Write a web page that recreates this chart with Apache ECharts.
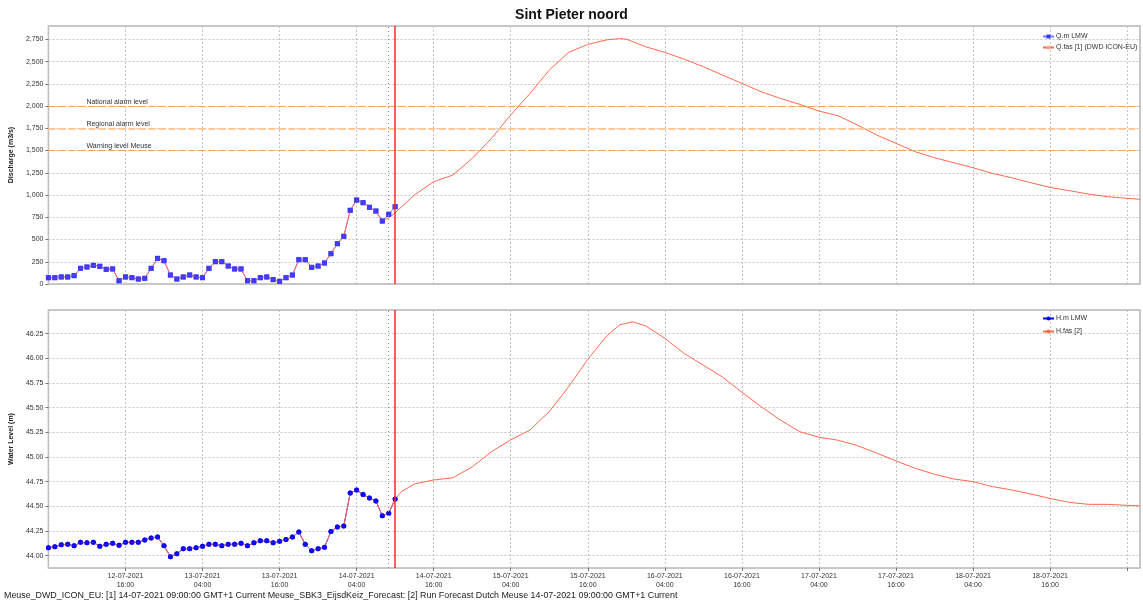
<!DOCTYPE html>
<html><head><meta charset="utf-8">
<script src="https://cdn.jsdelivr.net/npm/echarts@6/dist/echarts.min.js"></script>
<style>html,body{margin:0;padding:0;background:#fff}#c{width:1143px;height:605px}</style>
</head><body><div id="c"></div>
<script>
// x values are hours after 12-07-2021 04:00 (hourly observations)
const titleText = 'Sint Pieter noord';
const footerText = 'Meuse_DWD_ICON_EU: [1] 14-07-2021 09:00:00 GMT+1 Current Meuse_SBK3_EijsdKeiz_Forecast: [2] Run Forecast Dutch Meuse 14-07-2021 09:00:00 GMT+1 Current';
const xTickHours = [12, 24, 36, 48, 60, 72, 84, 96, 108, 120, 132, 144, 156];
const xTickLabels = ['12-07-2021\n16:00', '13-07-2021\n04:00', '13-07-2021\n16:00', '14-07-2021\n04:00', '14-07-2021\n16:00',
  '15-07-2021\n04:00', '15-07-2021\n16:00', '16-07-2021\n04:00', '16-07-2021\n16:00', '17-07-2021\n04:00',
  '17-07-2021\n16:00', '18-07-2021\n04:00', '18-07-2021\n16:00'];
const t0Hour = 53;      // 14-07-2021 09:00 (dotted)
const nowHour = 54;     // current time (red line)

// Discharge observations Q.m LMW (hourly from h=0)
const obsQ = [71,71,79,79,94,176,191,210,199,165,169,37,79,71,56,64,176,288,262,101,
  56,79,101,79,71,176,251,251,202,169,169,37,37,71,79,49,30,71,101,273,
  273,187,202,236,341,453,536,828,944,914,862,820,708,783,869];
const qFasHistEnd = 52; // Q.fas follows the observations up to this hour
const fcQHours = [53,54,57,60,63,66,69,72,75,78,81,84,87,89,90,93,96,99,102,105,108,111,114,117,120,123,126,129,132,135,138,141,144,147,150,153,156,159,162,165,168,170];
const fcQ = [745,801,1000,1150,1225,1412,1636,1899,2142,2404,2603,2693,2745,2758,2752,2667,2603,2528,2442,2348,2255,2161,2086,2019,1944,1891,1787,1674,1581,1487,1419,1363,1307,1243,1195,1138,1086,1049,1011,981,963,952];

// Water level observations H.m LMW
const obsH = [44.08,44.09,44.11,44.115,44.10,44.135,44.13,44.135,44.095,44.115,
  44.125,44.105,44.135,44.135,44.135,44.16,44.18,44.19,44.10,43.99,
  44.02,44.07,44.07,44.08,44.095,44.115,44.115,44.10,44.115,44.115,
  44.125,44.10,44.13,44.15,44.15,44.13,44.145,44.165,44.19,44.24,
  44.115,44.05,44.07,44.085,44.245,44.29,44.30,44.635,44.665,44.62,
  44.585,44.555,44.405,44.43,44.575];
const hFasHistEnd = 54;
const fcHHours = [55,57,60,63,66,69,72,75,78,81,84,87,89,91,93,96,99,102,105,108,111,114,117,120,123,126,129,132,135,138,141,144,147,150,153,156,159,162,165,168,170];
const fcH = [44.65,44.727,44.767,44.79,44.90,45.054,45.173,45.274,45.46,45.71,45.99,46.23,46.34,46.37,46.33,46.203,46.05,45.93,45.81,45.656,45.51,45.375,45.257,45.20,45.17,45.115,45.04,44.96,44.886,44.825,44.777,44.75,44.70,44.666,44.625,44.58,44.54,44.52,44.52,44.51,44.505];

const thresholdValues = [2000, 1750, 1500];
const thresholdNames = ['National alarm level', 'Regional alarm level', 'Warning level Meuse'];

const seriesNames = ['Q.m LMW', 'Q.fas [1] (DWD ICON-EU)', 'H.m LMW', 'H.fas [2]'];

// ---------- build ----------
const FONT = 'Liberation Sans, Arial, sans-serif';
const obsQData = obsQ.map((v, i) => [i, v]);
const obsHData = obsH.map((v, i) => [i, v]);
const fasQData = obsQ.slice(0, qFasHistEnd + 1).map((v, i) => [i, v]).concat(fcQHours.map((h, i) => [h, fcQ[i]]));
const fasHData = obsH.slice(0, hFasHistEnd + 1).map((v, i) => [i, v]).concat(fcHHours.map((h, i) => [h, fcH[i]]));

const BLUE_Q = '#3838ff', BLUE_H = '#0000ff', RED = '#ff6a4f';
const thrStyles = [
  {color: '#f5a04e', width: 1.2, type: [7, 3]},
  {color: '#ffc896', width: 2, type: [7, 3]},
  {color: '#f5a04e', width: 1.2, type: [7, 3]}
];

function xLabel(v) {
  const i = xTickHours.indexOf(Math.round(v));
  return i >= 0 ? xTickLabels[i] : '';
}

function vLines() {
  return [
    {xAxis: t0Hour, lineStyle: {color: '#8a8a8a', width: 1, type: [1, 3]}},
    {xAxis: nowHour, lineStyle: {color: '#ff2a2a', width: 1.5, type: 'solid'}}
  ];
}

const xCommon = (gi, showLabels) => ({
  type: 'value', gridIndex: gi, min: 0, max: 170, interval: 12,
  axisLine: {show: false},
  axisTick: {show: showLabels, length: 3, lineStyle: {color: '#777'}},
  axisLabel: {show: showLabels, formatter: xLabel, fontSize: 7, fontFamily: FONT, color: '#333', margin: 4, lineHeight: 9,
    showMinLabel: false, showMaxLabel: false},
  splitLine: {show: true, lineStyle: {color: '#c4c4c4', type: [2, 2], width: 1}}
});

const option = {
  animation: false,
  backgroundColor: '#fff',
  title: [
    {text: titleText, left: 'center', top: 3, textStyle: {fontSize: 14, fontWeight: 'bold', fontFamily: FONT, color: '#111'}},
    {text: footerText, left: 4, top: 591, padding: 0, textStyle: {fontSize: 8.9, fontWeight: 'normal', fontFamily: FONT, color: '#222'}}
  ],
  legend: [
    {data: [seriesNames[0], seriesNames[1]], orient: 'vertical', left: 1037, top: 28, itemWidth: 11, itemHeight: 5, itemGap: 4,
      textStyle: {fontSize: 7, fontFamily: FONT, color: '#333', padding: [0, 0, 0, -3]}, selectedMode: false},
    {data: [seriesNames[2], seriesNames[3]], orient: 'vertical', left: 1037, top: 310, itemWidth: 11, itemHeight: 5, itemGap: 6,
      textStyle: {fontSize: 7, fontFamily: FONT, color: '#333', padding: [0, 0, 0, -3]}, selectedMode: false}
  ],
  grid: [
    {left: 48, right: 3, top: 26, height: 258, show: true, borderColor: '#b8b8b8', borderWidth: 1.5, backgroundColor: 'transparent'},
    {left: 48, right: 3, top: 310, height: 258, show: true, borderColor: '#b8b8b8', borderWidth: 1.5, backgroundColor: 'transparent'}
  ],
  xAxis: [xCommon(0, false), xCommon(1, true)],
  yAxis: [
    {type: 'value', gridIndex: 0, min: 0, max: 2900, interval: 250,
      name: 'Discharge (m3/s)', nameLocation: 'middle', nameGap: 27,
      nameTextStyle: {fontSize: 7, fontWeight: 'bold', fontFamily: FONT, color: '#222'},
      axisLine: {show: false}, axisTick: {show: true, length: 3, lineStyle: {color: '#777'}},
      axisLabel: {fontSize: 7, fontFamily: FONT, color: '#333', margin: 5, showMaxLabel: false,
        formatter: v => v.toLocaleString('en-US')},
      splitLine: {lineStyle: {color: '#c4c4c4', type: [2, 2], width: 1}}},
    {type: 'value', gridIndex: 1, min: 43.875, max: 46.49, minInterval: 0.25, maxInterval: 0.25, splitNumber: 10,
      name: 'Water Level (m)', nameLocation: 'middle', nameGap: 27,
      nameTextStyle: {fontSize: 7, fontWeight: 'bold', fontFamily: FONT, color: '#222'},
      axisLine: {show: false}, axisTick: {show: true, length: 3, lineStyle: {color: '#777'}},
      axisLabel: {fontSize: 7, fontFamily: FONT, color: '#333', margin: 5, showMaxLabel: false, showMinLabel: false,
        formatter: v => v.toFixed(2)},
      splitLine: {lineStyle: {color: '#c4c4c4', type: [2, 2], width: 1}}}
  ],
  series: [
    {name: seriesNames[0], type: 'line', xAxisIndex: 0, yAxisIndex: 0, data: obsQData, z: 2,
      symbol: 'rect', symbolSize: 5, itemStyle: {color: BLUE_Q}, lineStyle: {color: '#7a7aff', width: 1},
      markLine: {silent: true, symbol: 'none', animation: false,
        data: thresholdValues.map((v, i) => ({yAxis: v, lineStyle: thrStyles[i],
          label: {show: true, formatter: thresholdNames[i], position: 'insideStartTop', distance: [38, 1],
            fontSize: 7, fontFamily: FONT, color: '#333'}})).concat(vLines().map(d => Object.assign(d, {label: {show: false}})))}},
    {name: seriesNames[1], type: 'line', xAxisIndex: 0, yAxisIndex: 0, data: fasQData, z: 3,
      symbol: 'none', lineStyle: {color: RED, width: 1}, itemStyle: {color: '#ffa090'}},
    {name: seriesNames[0], type: 'scatter', xAxisIndex: 0, yAxisIndex: 0, data: obsQData, z: 4,
      symbol: 'rect', symbolSize: 5, itemStyle: {color: BLUE_Q}},

    {name: seriesNames[2], type: 'line', xAxisIndex: 1, yAxisIndex: 1, data: obsHData, z: 2,
      symbol: 'circle', symbolSize: 5, itemStyle: {color: BLUE_H}, lineStyle: {color: BLUE_H, width: 1},
      markLine: {silent: true, symbol: 'none', animation: false,
        data: vLines().map(d => Object.assign(d, {label: {show: false}}))}},
    {name: seriesNames[3], type: 'line', xAxisIndex: 1, yAxisIndex: 1, data: fasHData, z: 3,
      symbol: 'none', lineStyle: {color: RED, width: 1}, itemStyle: {color: RED}},
    {name: seriesNames[2], type: 'scatter', xAxisIndex: 1, yAxisIndex: 1, data: obsHData, z: 4,
      symbol: 'circle', symbolSize: 5, itemStyle: {color: BLUE_H}}
  ]
};
const chart = echarts.init(document.getElementById('c'));
chart.setOption(option);
</script>
</body></html>
